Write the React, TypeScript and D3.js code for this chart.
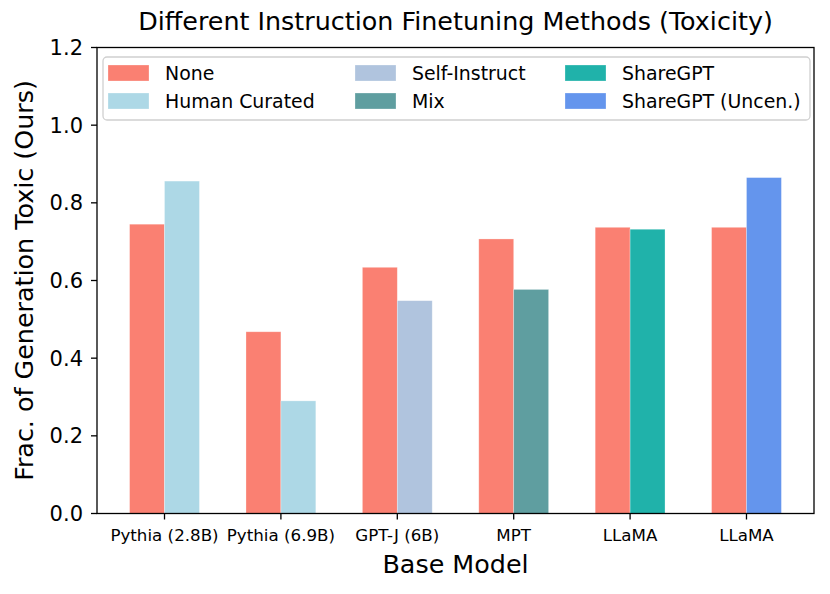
import { scaleLinear } from 'd3'

const categories = ['Pythia (2.8B)', 'Pythia (6.9B)', 'GPT-J (6B)', 'MPT', 'LLaMA', 'LLaMA']
const noneValues = [0.745, 0.468, 0.634, 0.707, 0.737, 0.737]
const tunedValues = [0.856, 0.29, 0.548, 0.577, 0.732, 0.865]
const tunedMethods = ['Human Curated', 'Human Curated', 'Self-Instruct', 'Mix', 'ShareGPT', 'ShareGPT (Uncen.)']
const methods = ['None', 'Human Curated', 'Self-Instruct', 'Mix', 'ShareGPT', 'ShareGPT (Uncen.)']
const methodColors = ['#fa8072', '#add8e6', '#b0c4de', '#5f9ea0', '#20b2aa', '#6495ed']
const yTicks = [0, 0.2, 0.4, 0.6, 0.8, 1.0, 1.2]

const width = 830
const height = 594
const margin = { top: 47.5, right: 16, bottom: 80.5, left: 97 }
const barWidth = 0.3
const font = 'DejaVu Sans, sans-serif'

const colorOf = (m: string) => methodColors[methods.indexOf(m)]

const App = () => {
  const x = scaleLinear()
    .domain([-0.58, categories.length - 1 + 0.58])
    .range([margin.left, width - margin.right])
  const y = scaleLinear().domain([0, 1.2]).range([height - margin.bottom, margin.top])
  const bw = x(barWidth) - x(0)
  const x0 = margin.left
  const x1 = width - margin.right
  const y0 = height - margin.bottom
  const y1 = margin.top

  // legend laid out column-major, two rows
  const legendCols = [108, 355, 565]
  const legendRows = [73, 101]

  return (
    <div style={{ position: 'fixed', left: 0, top: 0 }}>
      <svg width={width} height={height} viewBox={`0 0 ${width} ${height}`} style={{ display: 'block', background: '#fff' }}>
        <text x={(x0 + x1) / 2} y={30} textAnchor="middle" fontFamily={font} fontSize={25.4}>
          Different Instruction Finetuning Methods (Toxicity)
        </text>

        {categories.map((c, i) => (
          <g key={`bars-${i}`}>
            <rect
              x={x(i - barWidth)}
              y={y(noneValues[i])}
              width={bw}
              height={y(0) - y(noneValues[i])}
              fill={colorOf('None')}
              stroke="#fff"
              strokeOpacity={0.4}
              strokeWidth={0.7}
            />
            <rect
              x={x(i)}
              y={y(tunedValues[i])}
              width={bw}
              height={y(0) - y(tunedValues[i])}
              fill={colorOf(tunedMethods[i])}
              stroke="#fff"
              strokeOpacity={0.4}
              strokeWidth={0.7}
            />
          </g>
        ))}

        {/* spines */}
        <rect x={x0} y={y1} width={x1 - x0} height={y0 - y1} fill="none" stroke="#000" strokeWidth={1.3} />

        {yTicks.map((t) => (
          <g key={`yt-${t}`}>
            <line x1={x0 - 6} x2={x0} y1={y(t)} y2={y(t)} stroke="#000" strokeWidth={1.3} />
            <text x={x0 - 14} y={y(t) + 7.5} textAnchor="end" fontFamily={font} fontSize={21}>
              {t.toFixed(1)}
            </text>
          </g>
        ))}

        {categories.map((c, i) => (
          <g key={`xt-${i}`}>
            <line x1={x(i)} x2={x(i)} y1={y0} y2={y0 + 6} stroke="#000" strokeWidth={1.3} />
            <text x={x(i)} y={y0 + 27.5} textAnchor="middle" fontFamily={font} fontSize={16.7}>
              {c}
            </text>
          </g>
        ))}

        <text x={(x0 + x1) / 2} y={573} textAnchor="middle" fontFamily={font} fontSize={25.4}>
          Base Model
        </text>
        <text
          transform={`translate(33, ${(y0 + y1) / 2}) rotate(-90)`}
          textAnchor="middle"
          fontFamily={font}
          fontSize={25.4}
        >
          Frac. of Generation Toxic (Ours)
        </text>

        {/* legend */}
        <rect x={103} y={57} width={707} height={63} rx={4} fill="#fff" fillOpacity={0.8} stroke="#d0d0d0" strokeWidth={1.3} />
        {methods.map((m, i) => {
          const cx = legendCols[Math.floor(i / 2)]
          const cy = legendRows[i % 2]
          return (
            <g key={`lg-${m}`}>
              <rect x={cx} y={cy - 8} width={41} height={16} fill={methodColors[i]} stroke="#fff" strokeOpacity={0.4} strokeWidth={0.7} />
              <text x={cx + 57} y={cy + 6.8} fontFamily={font} fontSize={18.9}>
                {m}
              </text>
            </g>
          )
        })}
      </svg>
    </div>
  )
}

export default App
